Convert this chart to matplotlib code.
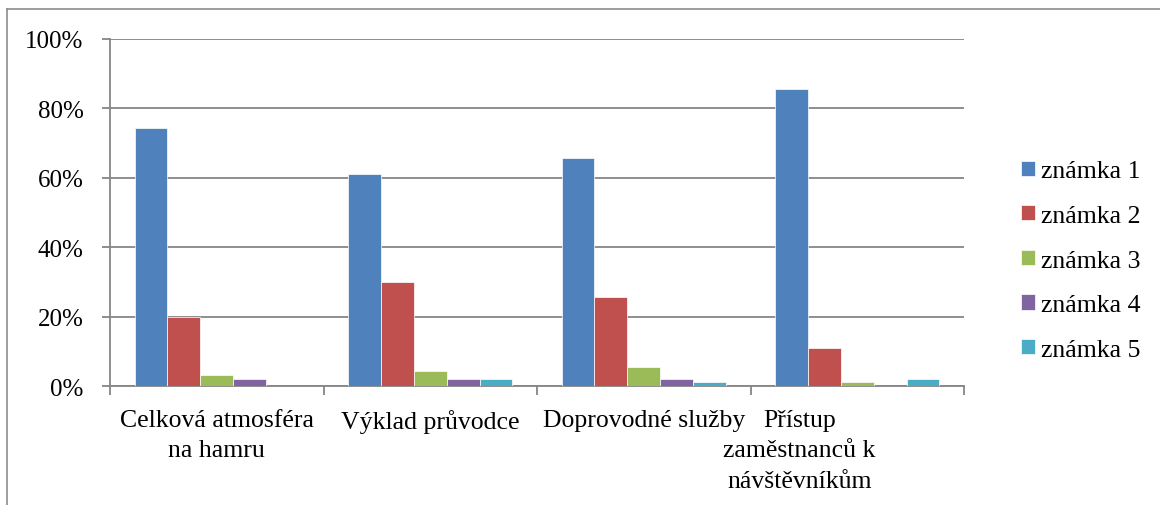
import matplotlib
matplotlib.use('Agg')
import matplotlib.pyplot as plt
import matplotlib.transforms as mtransforms
from matplotlib.lines import Line2D
import numpy as np

plt.rcParams['font.family'] = ['Liberation Serif', 'DejaVu Serif']

# ------------------------------------------------------------
# data (share of answers, %)
# ------------------------------------------------------------
categories = ['Celková atmosféra\nna hamru', 'Výklad průvodce',
              'Doprovodné služby', 'Přístup\nzaměstnanců k\nnávštěvníkům']
series = ['známka 1', 'známka 2', 'známka 3', 'známka 4', 'známka 5']

znamka1 = [74.4, 61.1, 65.6, 85.6]
znamka2 = [20.0, 30.0, 25.6, 11.1]
znamka3 = [3.3, 4.4, 5.6, 1.1]
znamka4 = [2.2, 2.2, 2.2, 0.0]
znamka5 = [0.0, 2.2, 1.1, 2.2]

yticks = [0, 20, 40, 60, 80, 100]

colors = ['#4F81BD', '#C0504D', '#9BBB59', '#8064A2', '#4BACC6']
GRID = '#868686'
FS = 18.5

fig = plt.figure(figsize=(11.6, 5.06), dpi=100)
ax = fig.add_axes([110 / 1160, 1 - 387.3 / 506, 854 / 1160, 347.3 / 506])

x = np.arange(len(categories))
w = 1 / 6.5
all_vals = [znamka1, znamka2, znamka3, znamka4, znamka5]
for i, (vals, lab, c) in enumerate(zip(all_vals, series, colors)):
    ax.bar(x + (i - 2) * w, vals, w, color=c, label=lab,
           edgecolor='white', linewidth=0.5, zorder=3)

ax.set_xlim(-0.5, len(categories) - 0.5)
ax.set_ylim(0, 100)
ax.set_yticks(yticks)
ax.set_yticklabels([f'{v}%' for v in yticks], fontsize=18)
ax.yaxis.grid(True, color=GRID, lw=1.3, zorder=0)

# category boundaries as major ticks, labels on minor ticks
ax.set_xticks(np.arange(len(categories) + 1) - 0.5)
ax.set_xticklabels([])
ax.set_xticks(x, minor=True)
ax.set_xticklabels(categories, minor=True, fontsize=FS, linespacing=1.5)
ax.tick_params(axis='x', which='minor', length=0, pad=16)
ax.tick_params(axis='x', which='major', length=6.5, width=1.3, color=GRID)
ax.tick_params(axis='y', length=6, width=1.3, color=GRID, pad=13)

for s in ['top', 'right']:
    ax.spines[s].set_visible(False)
for s in ['left', 'bottom']:
    ax.spines[s].set_color(GRID)
    ax.spines[s].set_linewidth(1.3)

# last category label is shifted left in the original
lbl = ax.get_xticklabels(minor=True)[-1]
lbl.set_transform(lbl.get_transform() +
                  mtransforms.ScaledTranslation(-0.58, 0, fig.dpi_scale_trans))

fig.legend(loc='center left', bbox_to_anchor=(1021 / 1160, 1 - 261.5 / 506),
           frameon=False, fontsize=FS, handlelength=0.54, handleheight=0.54,
           handletextpad=0.25, labelspacing=0.88, borderpad=0, borderaxespad=0)

# outer chart border (top and left visible)
fig.add_artist(Line2D([7 / 1160, 7 / 1160], [0, 1 - 10 / 506],
                      transform=fig.transFigure, color='#8c8c8c', lw=1.2))
fig.add_artist(Line2D([7 / 1160, 1], [1 - 10 / 506, 1 - 10 / 506],
                      transform=fig.transFigure, color='#8c8c8c', lw=1.2))

fig.savefig('out.png', dpi=100)
